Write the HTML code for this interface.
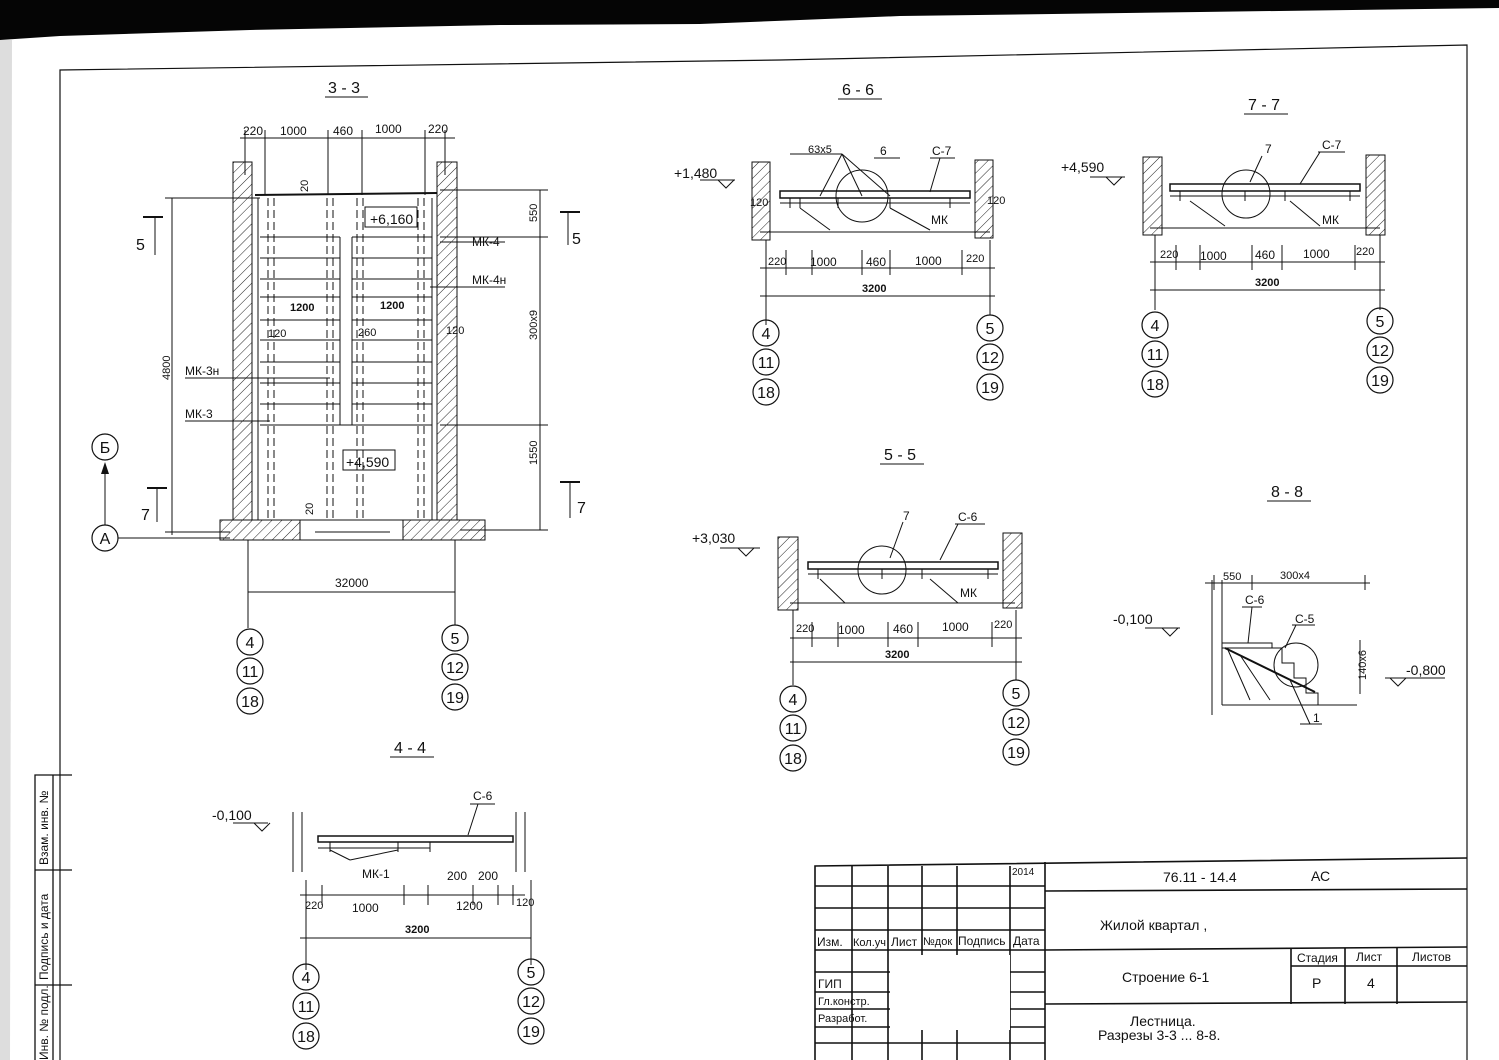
<!DOCTYPE html>
<html><head><meta charset="utf-8"><style>
html,body{margin:0;padding:0;background:#fff}
svg{display:block}
text{font-family:"Liberation Sans",Arial,sans-serif;fill:#111}
</style></head><body>
<svg width="1499" height="1060" viewBox="0 0 1499 1060" xmlns="http://www.w3.org/2000/svg">
<defs>
<pattern id="h" width="7" height="7" patternUnits="userSpaceOnUse" patternTransform="rotate(45)">
<line x1="0" y1="0" x2="0" y2="7" stroke="#222" stroke-width="1"/></pattern>
</defs>
<rect width="1499" height="1060" fill="#fff"/>
<polygon points="0,0 1499,0 1499,8 1200,12 900,16 800,20 700,24 500,25 250,30 60,36 0,40" fill="#050505"/>
<polygon points="0,40 12,40 10,1060 0,1060" fill="#ddd"/>
<g stroke="#111" fill="none" stroke-width="1.2">
<polyline points="60,1060 60,70 780,60 1467,45 1467,1060"/>
</g>
<!-- left margin strip -->
<g stroke="#111" fill="none" stroke-width="1.3">
<polyline points="35,1060 35,775 72,775"/>
<line x1="53" y1="775" x2="53" y2="1060"/>
<line x1="35" y1="870" x2="72" y2="870"/>
<line x1="35" y1="985" x2="72" y2="985"/>
</g>
<text transform="translate(48,865) rotate(-90)" font-size="12">Взам. инв. №</text>
<text transform="translate(48,980) rotate(-90)" font-size="12">Подпись и дата</text>
<text transform="translate(48,1060) rotate(-90)" font-size="12">Инв. № подл.</text>

<!-- titles -->
<g font-size="16">
<text x="328" y="93">3 - 3</text><line x1="325" y1="97" x2="368" y2="97" stroke="#111"/>
<text x="842" y="95">6 - 6</text><line x1="838" y1="99" x2="882" y2="99" stroke="#111"/>
<text x="1248" y="110">7 - 7</text><line x1="1244" y1="114" x2="1288" y2="114" stroke="#111"/>
<text x="884" y="460">5 - 5</text><line x1="880" y1="464" x2="924" y2="464" stroke="#111"/>
<text x="1271" y="497">8 - 8</text><line x1="1267" y1="501" x2="1311" y2="501" stroke="#111"/>
<text x="394" y="753">4 - 4</text><line x1="390" y1="757" x2="434" y2="757" stroke="#111"/>
</g>

<!-- ===== 3-3 ===== -->
<g stroke="#111" stroke-width="1" fill="none">
<rect x="233" y="162" width="19" height="358" fill="url(#h)"/>
<rect x="437" y="162" width="20" height="358" fill="url(#h)"/>
<rect x="220" y="520" width="80" height="20" fill="url(#h)"/>
<rect x="403" y="520" width="82" height="20" fill="url(#h)"/>
<line x1="300" y1="520" x2="403" y2="520"/><line x1="300" y1="540" x2="403" y2="540"/>
<line x1="315" y1="532" x2="390" y2="532"/>
<line x1="255" y1="195" x2="437" y2="193" stroke-width="2"/>
<line x1="258" y1="198" x2="258" y2="520"/><line x1="432" y1="198" x2="432" y2="520"/>
<line x1="340" y1="237" x2="340" y2="425"/><line x1="352" y1="237" x2="352" y2="425"/>
<g stroke-dasharray="8,4">
<line x1="268" y1="198" x2="268" y2="518"/><line x1="274" y1="198" x2="274" y2="518"/>
<line x1="327" y1="198" x2="327" y2="518"/><line x1="333" y1="198" x2="333" y2="518"/>
<line x1="357" y1="198" x2="357" y2="518"/><line x1="363" y1="198" x2="363" y2="518"/>
<line x1="418" y1="198" x2="418" y2="518"/><line x1="424" y1="198" x2="424" y2="518"/>
</g>
<g>
<line x1="260" y1="237" x2="340" y2="237"/><line x1="352" y1="237" x2="432" y2="237"/>
<line x1="260" y1="258" x2="340" y2="258"/><line x1="352" y1="258" x2="432" y2="258"/>
<line x1="260" y1="279" x2="340" y2="279"/><line x1="352" y1="279" x2="432" y2="279"/>
<line x1="260" y1="297" x2="340" y2="297"/><line x1="352" y1="297" x2="432" y2="297"/>
<line x1="260" y1="320" x2="340" y2="320"/><line x1="352" y1="320" x2="432" y2="320"/>
<line x1="260" y1="340" x2="340" y2="340"/><line x1="352" y1="340" x2="432" y2="340"/>
<line x1="260" y1="362" x2="340" y2="362"/><line x1="352" y1="362" x2="432" y2="362"/>
<line x1="260" y1="383" x2="340" y2="383"/><line x1="352" y1="383" x2="432" y2="383"/>
<line x1="260" y1="404" x2="340" y2="404"/><line x1="352" y1="404" x2="432" y2="404"/>
<line x1="260" y1="425" x2="432" y2="425"/>
</g>
<rect x="365" y="207" width="52" height="20"/>
<rect x="343" y="450" width="52" height="20"/>
<!-- dims -->
<line x1="240" y1="138" x2="455" y2="138"/>
<line x1="245" y1="130" x2="245" y2="175"/><line x1="265" y1="130" x2="265" y2="195"/>
<line x1="328" y1="130" x2="328" y2="195"/><line x1="362" y1="130" x2="362" y2="195"/>
<line x1="425" y1="130" x2="425" y2="195"/><line x1="445" y1="130" x2="445" y2="175"/>
<line x1="172" y1="198" x2="172" y2="535"/>
<line x1="165" y1="198" x2="260" y2="198"/><line x1="165" y1="532" x2="230" y2="532"/>
<line x1="540" y1="190" x2="540" y2="530"/>
<line x1="440" y1="190" x2="548" y2="190"/><line x1="440" y1="237" x2="548" y2="237"/>
<line x1="440" y1="425" x2="548" y2="425"/><line x1="460" y1="530" x2="548" y2="530"/>
<line x1="248" y1="592" x2="455" y2="592"/>
<line x1="248" y1="540" x2="248" y2="628"/><line x1="455" y1="540" x2="455" y2="625"/>
<line x1="118" y1="538" x2="230" y2="538"/>
<line x1="105" y1="525" x2="105" y2="470"/>
<line x1="440" y1="242" x2="505" y2="242"/><line x1="430" y1="287" x2="505" y2="287"/>
<line x1="185" y1="378" x2="330" y2="378"/><line x1="185" y1="421" x2="270" y2="421"/>
<line x1="143" y1="217" x2="163" y2="217" stroke-width="2"/><line x1="155" y1="217" x2="155" y2="255"/>
<line x1="560" y1="212" x2="580" y2="212" stroke-width="2"/><line x1="568" y1="212" x2="568" y2="245"/>
<line x1="147" y1="488" x2="167" y2="488" stroke-width="2"/><line x1="157" y1="488" x2="157" y2="522"/>
<line x1="560" y1="482" x2="580" y2="482" stroke-width="2"/><line x1="570" y1="482" x2="570" y2="518"/>
</g>
<polygon points="105,462 101,474 109,474" fill="#111"/>
<g font-size="12">
<text x="243" y="135">220</text><text x="280" y="135">1000</text><text x="333" y="135">460</text><text x="375" y="133">1000</text><text x="428" y="133">220</text>
<text x="370" y="224" font-size="14">+6,160</text>
<text x="346" y="467" font-size="14">+4,590</text>
<text x="472" y="246">МК-4</text><text x="472" y="284">МК-4н</text>
<text x="185" y="375">МК-3н</text><text x="185" y="418">МК-3</text>
<text x="290" y="311" font-weight="bold" font-size="11">1200</text><text x="380" y="309" font-weight="bold" font-size="11">1200</text>
<text x="268" y="337" font-size="11">120</text><text x="358" y="336" font-size="11">260</text><text x="446" y="334" font-size="11">120</text>
<text x="335" y="587">32000</text>
<text transform="translate(170,380) rotate(-90)" font-size="11">4800</text>
<text transform="translate(537,340) rotate(-90)" font-size="11">300х9</text>
<text transform="translate(537,222) rotate(-90)" font-size="11">550</text>
<text transform="translate(537,465) rotate(-90)" font-size="11">1550</text>
<text transform="translate(308,192) rotate(-90)" font-size="11">20</text>
<text transform="translate(313,515) rotate(-90)" font-size="11">20</text>
<text x="136" y="250" font-size="16">5</text><text x="572" y="244" font-size="16">5</text>
<text x="141" y="520" font-size="16">7</text><text x="577" y="513" font-size="16">7</text>
</g>

<!-- circles -->
<g stroke="#111" stroke-width="1.2" fill="#fff">
<circle cx="105" cy="447" r="13"/><circle cx="105" cy="538" r="13"/>
<circle cx="250" cy="642" r="13"/><circle cx="250" cy="671" r="13"/><circle cx="250" cy="701" r="13"/>
<circle cx="455" cy="638" r="13"/><circle cx="455" cy="667" r="13"/><circle cx="455" cy="697" r="13"/>
<circle cx="766" cy="333" r="13"/><circle cx="766" cy="362" r="13"/><circle cx="766" cy="392" r="13"/>
<circle cx="990" cy="328" r="13"/><circle cx="990" cy="357" r="13"/><circle cx="990" cy="387" r="13"/>
<circle cx="1155" cy="325" r="13"/><circle cx="1155" cy="354" r="13"/><circle cx="1155" cy="384" r="13"/>
<circle cx="1380" cy="321" r="13"/><circle cx="1380" cy="350" r="13"/><circle cx="1380" cy="380" r="13"/>
<circle cx="793" cy="699" r="13"/><circle cx="793" cy="728" r="13"/><circle cx="793" cy="758" r="13"/>
<circle cx="1016" cy="693" r="13"/><circle cx="1016" cy="722" r="13"/><circle cx="1016" cy="752" r="13"/>
<circle cx="306" cy="977" r="13"/><circle cx="306" cy="1006" r="13"/><circle cx="306" cy="1036" r="13"/>
<circle cx="531" cy="972" r="13"/><circle cx="531" cy="1001" r="13"/><circle cx="531" cy="1031" r="13"/>
</g>
<g font-size="16" text-anchor="middle">
<text x="105" y="453">Б</text><text x="105" y="544">А</text>
<text x="250" y="648">4</text><text x="250" y="677">11</text><text x="250" y="707">18</text>
<text x="455" y="644">5</text><text x="455" y="673">12</text><text x="455" y="703">19</text>
<text x="766" y="339">4</text><text x="766" y="368">11</text><text x="766" y="398">18</text>
<text x="990" y="334">5</text><text x="990" y="363">12</text><text x="990" y="393">19</text>
<text x="1155" y="331">4</text><text x="1155" y="360">11</text><text x="1155" y="390">18</text>
<text x="1380" y="327">5</text><text x="1380" y="356">12</text><text x="1380" y="386">19</text>
<text x="793" y="705">4</text><text x="793" y="734">11</text><text x="793" y="764">18</text>
<text x="1016" y="699">5</text><text x="1016" y="728">12</text><text x="1016" y="758">19</text>
<text x="306" y="983">4</text><text x="306" y="1012">11</text><text x="306" y="1042">18</text>
<text x="531" y="978">5</text><text x="531" y="1007">12</text><text x="531" y="1037">19</text>
</g>

<!-- generic small section macro drawn manually -->
<!-- 6-6 -->
<g stroke="#111" stroke-width="1" fill="none">
<rect x="752" y="162" width="18" height="78" fill="url(#h)"/>
<rect x="975" y="160" width="18" height="78" fill="url(#h)"/>
<rect x="780" y="191" width="190" height="7" stroke-width="1.5"/>
<line x1="780" y1="203" x2="970" y2="203"/>
<path d="M790,198 v10 M800,198 v10 M838,198 v10 M890,198 v10 M950,198 v10"/>
<line x1="800" y1="208" x2="830" y2="230"/><line x1="890" y1="208" x2="930" y2="230"/>
<line x1="760" y1="232" x2="990" y2="232"/>
<circle cx="862" cy="196" r="26"/>
<line x1="760" y1="268" x2="995" y2="268"/>
<path d="M766,240 v85 M990,240 v75 M786,250 v25 M812,250 v25 M862,250 v25 M890,250 v25 M962,250 v25"/>
<line x1="760" y1="296" x2="995" y2="296"/>
<line x1="700" y1="180" x2="735" y2="180"/><polyline points="718,180 726,188 734,180"/>
<line x1="790" y1="154" x2="842" y2="154"/><line x1="842" y1="154" x2="862" y2="196"/><line x1="842" y1="154" x2="890" y2="196"/><line x1="842" y1="154" x2="820" y2="196"/>
<line x1="874" y1="158" x2="900" y2="158"/><line x1="930" y1="158" x2="955" y2="158"/><line x1="940" y1="158" x2="930" y2="192"/>
</g>
<g font-size="12">
<text x="808" y="153" font-size="11">63х5</text><text x="880" y="155">6</text><text x="932" y="155">С-7</text>
<text x="674" y="178" font-size="14">+1,480</text><text x="931" y="224">МК</text>
<text x="750" y="206" font-size="11">120</text><text x="987" y="204" font-size="11">120</text>
<text x="768" y="265" font-size="11">220</text><text x="810" y="266">1000</text><text x="866" y="266">460</text><text x="915" y="265">1000</text><text x="966" y="262" font-size="11">220</text>
<text x="862" y="292" font-size="11" font-weight="bold">3200</text>
</g>
<!-- 7-7 -->
<g stroke="#111" stroke-width="1" fill="none">
<rect x="1143" y="157" width="19" height="78" fill="url(#h)"/>
<rect x="1366" y="155" width="19" height="80" fill="url(#h)"/>
<rect x="1170" y="184" width="190" height="7" stroke-width="1.5"/>
<line x1="1170" y1="196" x2="1360" y2="196"/>
<path d="M1180,191 v10 M1245,191 v10 M1285,191 v10 M1350,191 v10"/>
<line x1="1190" y1="201" x2="1225" y2="226"/><line x1="1290" y1="201" x2="1320" y2="226"/>
<line x1="1150" y1="228" x2="1380" y2="228"/>
<circle cx="1246" cy="194" r="24"/>
<line x1="1150" y1="262" x2="1385" y2="262"/>
<path d="M1155,235 v75 M1380,235 v75 M1176,245 v25 M1200,245 v25 M1252,245 v25 M1282,245 v25 M1355,245 v25"/>
<line x1="1150" y1="290" x2="1385" y2="290"/>
<line x1="1090" y1="177" x2="1125" y2="177"/><polyline points="1106,177 1114,185 1122,177"/>
<line x1="1262" y1="156" x2="1250" y2="182"/><line x1="1318" y1="152" x2="1345" y2="152"/><line x1="1320" y1="152" x2="1300" y2="184"/>
</g>
<g font-size="12">
<text x="1265" y="153">7</text><text x="1322" y="149">С-7</text>
<text x="1061" y="172" font-size="14">+4,590</text><text x="1322" y="224">МК</text>
<text x="1160" y="258" font-size="11">220</text><text x="1200" y="260">1000</text><text x="1255" y="259">460</text><text x="1303" y="258">1000</text><text x="1356" y="255" font-size="11">220</text>
<text x="1255" y="286" font-size="11" font-weight="bold">3200</text>
</g>
<!-- 5-5 -->
<g stroke="#111" stroke-width="1" fill="none">
<rect x="778" y="537" width="20" height="73" fill="url(#h)"/>
<rect x="1003" y="533" width="19" height="75" fill="url(#h)"/>
<rect x="808" y="562" width="190" height="7" stroke-width="1.5"/>
<line x1="808" y1="574" x2="998" y2="574"/>
<path d="M818,569 v10 M882,569 v10 M922,569 v10 M988,569 v10"/>
<line x1="820" y1="579" x2="845" y2="603"/><line x1="930" y1="579" x2="958" y2="603"/>
<line x1="790" y1="603" x2="1015" y2="603"/>
<circle cx="882" cy="570" r="24"/>
<line x1="790" y1="638" x2="1022" y2="638"/>
<path d="M793,610 v75 M1016,610 v70 M812,622 v25 M838,622 v25 M888,622 v25 M918,622 v25 M992,622 v25"/>
<line x1="790" y1="662" x2="1022" y2="662"/>
<line x1="720" y1="548" x2="760" y2="548"/><polyline points="738,548 746,556 754,548"/>
<line x1="903" y1="522" x2="890" y2="558"/><line x1="955" y1="524" x2="985" y2="524"/><line x1="958" y1="524" x2="940" y2="560"/>
</g>
<g font-size="12">
<text x="903" y="520">7</text><text x="958" y="521">С-6</text>
<text x="692" y="543" font-size="14">+3,030</text><text x="960" y="597">МК</text>
<text x="796" y="632" font-size="11">220</text><text x="838" y="634">1000</text><text x="893" y="633">460</text><text x="942" y="631">1000</text><text x="994" y="628" font-size="11">220</text>
<text x="885" y="658" font-size="11" font-weight="bold">3200</text>
</g>
<!-- 4-4 -->
<g stroke="#111" stroke-width="1" fill="none">
<path d="M293,812 v60 M302,812 v60 M516,812 v60 M525,812 v60"/>
<rect x="318" y="836" width="195" height="6" stroke-width="1.5"/>
<line x1="318" y1="848" x2="430" y2="848"/>
<path d="M330,842 v10 M398,842 v10 M430,842 v10"/>
<line x1="350" y1="860" x2="330" y2="850"/><line x1="350" y1="860" x2="398" y2="850"/>
<line x1="300" y1="895" x2="525" y2="895"/>
<path d="M306,880 v90 M531,880 v85 M322,885 v20 M404,885 v20 M428,885 v20 M473,885 v20 M498,885 v20 M513,885 v20"/>
<line x1="300" y1="938" x2="531" y2="938"/>
<line x1="233" y1="823" x2="268" y2="823"/><polyline points="254,823 262,831 270,823"/>
<line x1="470" y1="804" x2="495" y2="804"/><line x1="478" y1="804" x2="468" y2="835"/>
</g>
<g font-size="12">
<text x="473" y="800">С-6</text><text x="212" y="820" font-size="14">-0,100</text>
<text x="362" y="878">МК-1</text><text x="447" y="880">200</text><text x="478" y="880">200</text>
<text x="305" y="909" font-size="11">220</text><text x="352" y="912">1000</text><text x="456" y="910">1200</text><text x="516" y="906" font-size="11">120</text>
<text x="405" y="933" font-size="11" font-weight="bold">3200</text>
</g>
<!-- 8-8 -->
<g stroke="#111" stroke-width="1" fill="none">
<path d="M1212,580 v135 M1222,580 v125 M1222,705 h135"/>
<line x1="1205" y1="583" x2="1370" y2="583"/>
<path d="M1214,575 v15 M1252,575 v15 M1365,575 v15"/>
<rect x="1222" y="643" width="50" height="5"/>
<path d="M1272,648 h10 v15 h12 v15 h12 v15 h12 v12"/>
<line x1="1225" y1="648" x2="1315" y2="692" stroke-width="2"/>
<path d="M1228,650 L1250,700 M1240,655 L1270,700"/>
<circle cx="1296" cy="665" r="22"/>
<line x1="1360" y1="640" x2="1360" y2="694"/>
<line x1="1145" y1="628" x2="1180" y2="628"/><polyline points="1162,628 1170,636 1178,628"/>
<line x1="1385" y1="678" x2="1445" y2="678"/><polyline points="1390,678 1398,686 1406,678"/>
<line x1="1242" y1="607" x2="1262" y2="607"/><line x1="1252" y1="607" x2="1248" y2="643"/>
<line x1="1292" y1="625" x2="1315" y2="625"/><line x1="1296" y1="625" x2="1285" y2="648"/>
<line x1="1300" y1="724" x2="1322" y2="724"/><line x1="1310" y1="724" x2="1290" y2="680"/>
</g>
<g font-size="12">
<text x="1223" y="580" font-size="11">550</text><text x="1280" y="579" font-size="11">300х4</text>
<text x="1245" y="604">С-6</text><text x="1295" y="623">С-5</text>
<text x="1113" y="624" font-size="14">-0,100</text><text x="1406" y="675" font-size="14">-0,800</text>
<text x="1313" y="722">1</text>
<text transform="translate(1366,680) rotate(-90)" font-size="11">140х6</text>
</g>

<!-- title block -->
<g stroke="#111" stroke-width="1.6" fill="none">
<polyline points="815,1060 815,866 1467,858"/>
<line x1="1045" y1="862" x2="1045" y2="1060"/>
<path d="M852,866 v194 M888,866 v194 M922,866 v194 M957,866 v194 M1010,866 v194"/>
<path d="M815,886 h230 M815,908 h230 M815,930 h230 M815,950 h230 M815,972 h230 M815,992 h230 M815,1009 h230 M815,1027 h230 M815,1043 h230"/>
<line x1="1045" y1="891" x2="1467" y2="889"/>
<line x1="1045" y1="950" x2="1467" y2="947"/>
<line x1="1045" y1="1004" x2="1467" y2="1002"/>
<path d="M1291,948 v56 M1345,948 v56 M1397,948 v56 M1291,966 h176"/>
</g>
<rect x="890" y="955" width="120" height="75" fill="#fff"/>
<g font-size="12">
<text x="1012" y="875" font-size="10">2014</text>
<text x="817" y="946">Изм.</text><text x="853" y="946" font-size="11">Кол.уч</text><text x="891" y="946">Лист</text><text x="923" y="945" font-size="11">№док</text><text x="958" y="945">Подпись</text><text x="1013" y="945">Дата</text>
<text x="818" y="988">ГИП</text><text x="818" y="1005" font-size="11">Гл.констр.</text><text x="818" y="1022" font-size="11">Разработ.</text>
<text x="1163" y="882" font-size="14">76.11 - 14.4</text><text x="1311" y="881" font-size="14">АС</text>
<text x="1100" y="930" font-size="14">Жилой  квартал  ,</text>
<text x="1122" y="982" font-size="14">Строение  6-1</text>
<text x="1297" y="962">Стадия</text><text x="1356" y="961">Лист</text><text x="1412" y="961">Листов</text>
<text x="1312" y="988" font-size="14">Р</text><text x="1367" y="988" font-size="14">4</text>
<text x="1130" y="1026" font-size="14">Лестница.</text><text x="1098" y="1040" font-size="14">Разрезы  3-3 ... 8-8.</text>
</g>
</svg>
</body></html>
